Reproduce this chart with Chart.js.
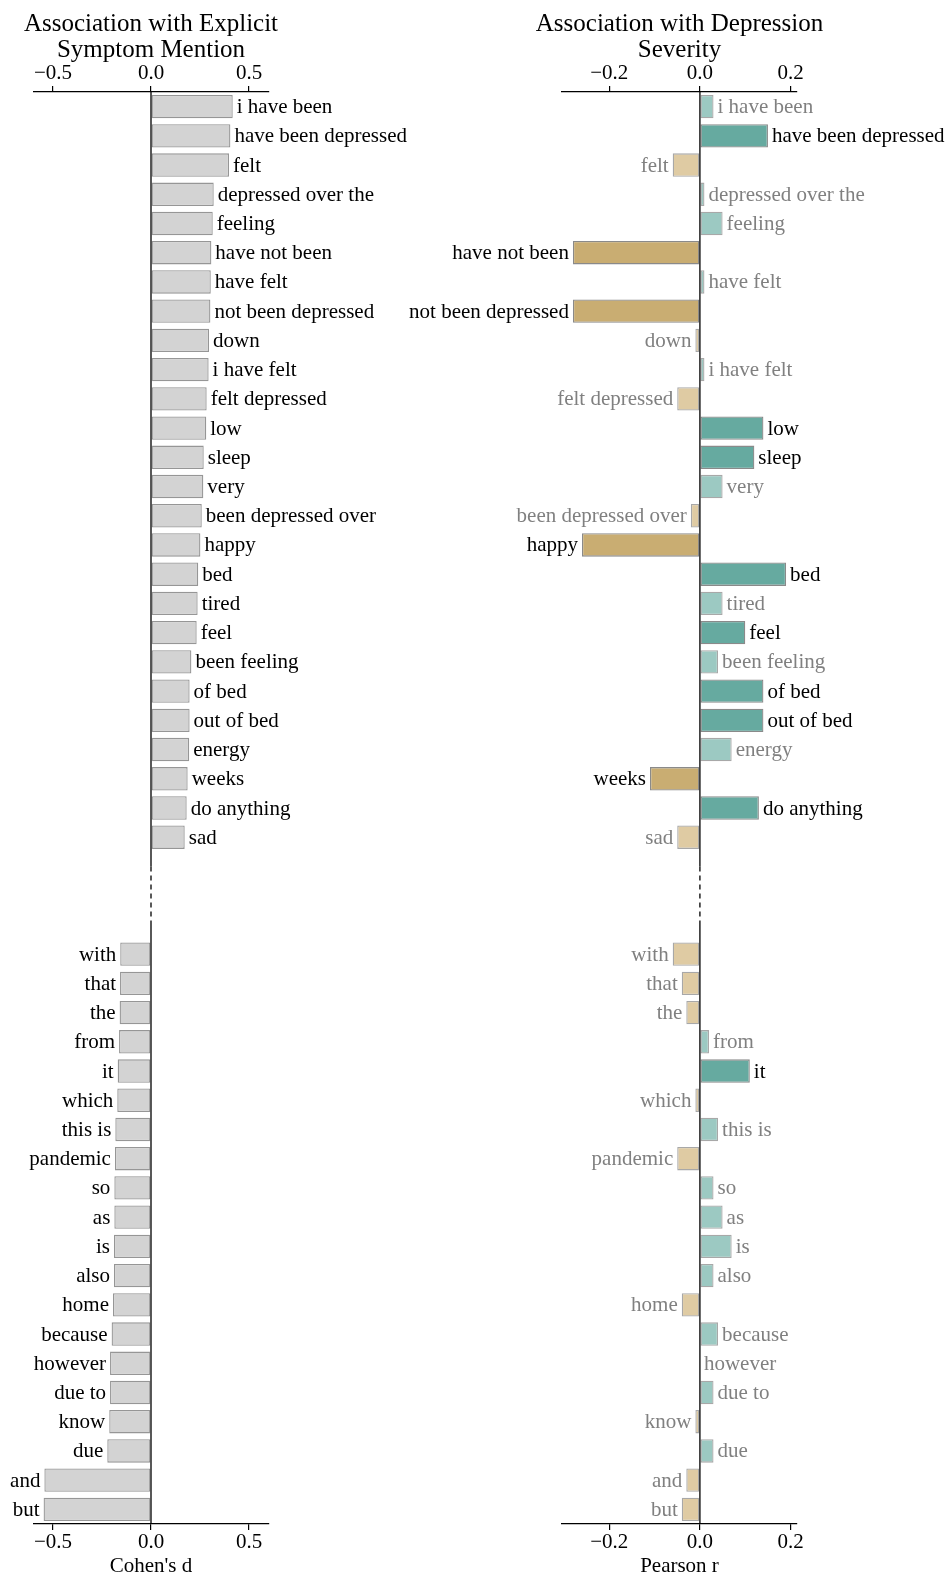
<!DOCTYPE html>
<html><head><meta charset="utf-8">
<script src="https://cdn.jsdelivr.net/npm/chart.js@4"></script>
<style>
html,body{margin:0;padding:0;background:#fff;}
#wrap{position:relative;width:950px;height:1577px;overflow:hidden;}
.box{position:absolute;top:0;}
</style></head><body>
<div id="wrap">
<div class="box" style="left:0;width:480px;height:1577px"><canvas id="left" width="480" height="1577"></canvas></div>
<div class="box" style="left:400px;width:550px;height:1577px"><canvas id="right" width="550" height="1577"></canvas></div>
</div>
<script>
const topTerms = ["i have been","have been depressed","felt","depressed over the","feeling","have not been","have felt","not been depressed","down","i have felt","felt depressed","low","sleep","very","been depressed over","happy","bed","tired","feel","been feeling","of bed","out of bed","energy","weeks","do anything","sad"];
const bottomTerms = ["with","that","the","from","it","which","this is","pandemic","so","as","is","also","home","because","however","due to","know","due","and","but"];

const cohenTop = [0.417,0.405,0.398,0.320,0.315,0.308,0.305,0.303,0.296,0.294,0.284,0.282,0.269,0.267,0.259,0.252,0.241,0.238,0.233,0.206,0.197,0.197,0.195,0.187,0.182,0.172];
const cohenBottom = [-0.157,-0.158,-0.160,-0.163,-0.170,-0.172,-0.182,-0.184,-0.187,-0.187,-0.189,-0.189,-0.194,-0.201,-0.209,-0.209,-0.213,-0.223,-0.544,-0.548];

const pearsonTop = [0.03,0.15,-0.06,0.01,0.05,-0.28,0.01,-0.28,-0.01,0.01,-0.05,0.14,0.12,0.05,-0.02,-0.26,0.19,0.05,0.10,0.04,0.14,0.14,0.07,-0.11,0.13,-0.05];
const pearsonBottom = [-0.06,-0.04,-0.03,0.02,0.11,-0.01,0.04,-0.05,0.03,0.05,0.07,0.03,-0.04,0.04,0.00,0.03,-0.01,0.03,-0.03,-0.04];

const sigTop = [0,1,0,0,0,1,0,1,0,0,0,1,1,0,0,1,1,0,1,0,1,1,0,1,1,0];
const sigBottom = [0,0,0,0,1,0,0,0,0,0,0,0,0,0,0,0,0,0,0,0];

const cohenTicks = [-0.5, 0.0, 0.5];
const pearsonTicks = [-0.2, 0.0, 0.2];
const gapRows = 3;

const FONT = '"Liberation Serif", "Times New Roman", serif';

function fmt(v){
  const s = Math.abs(v).toFixed(1);
  return v < -1e-9 ? '\u2212' + s : s;
}

const annot = {
  id: 'annot',
  afterDatasetsDraw(chart, args, o) {
    const ctx = chart.ctx, ca = chart.chartArea;
    const xs = chart.scales.x, ys = chart.scales.y;
    const x0 = xs.getPixelForValue(0);
    const gTop = ys.getPixelForValue(topTerms.length);
    const gBot = ys.getPixelForValue(topTerms.length + gapRows - 1);
    ctx.save();
    ctx.strokeStyle = '#000';
    ctx.lineWidth = 1.3;
    ctx.beginPath();
    ctx.moveTo(x0, ca.top); ctx.lineTo(x0, gTop);
    ctx.moveTo(x0, gBot); ctx.lineTo(x0, ca.bottom);
    ctx.stroke();
    ctx.setLineDash([5, 4]);
    ctx.beginPath();
    ctx.moveTo(x0, gTop); ctx.lineTo(x0, gBot);
    ctx.stroke();
    ctx.setLineDash([]);

    ctx.font = '21px ' + FONT;
    ctx.textBaseline = 'middle';
    const meta = chart.getDatasetMeta(0);
    const vals = chart.data.datasets[0].data;
    meta.data.forEach((el, i) => {
      const v = vals[i];
      if (v === null || v === undefined) return;
      const lab = chart.data.labels[i];
      ctx.fillStyle = o.labelColors[i];
      if (v >= 0) { ctx.textAlign = 'left'; ctx.fillText(lab, el.x + 4, el.y + 1); }
      else { ctx.textAlign = 'right'; ctx.fillText(lab, el.x - 4, el.y + 1); }
    });

    ctx.font = '25px ' + FONT;
    ctx.textAlign = 'center';
    ctx.fillStyle = '#000';
    const cx = (ca.left + ca.right) / 2;
    o.title.forEach((t, k) => ctx.fillText(t, cx, ca.top - 68 + 26 * k));
    ctx.restore();
  }
};

function axis(pos, min, max, tickVals, title, h) {
  return {
    type: 'linear', position: pos, min: min, max: max,
    afterBuildTicks: s => { s.ticks = tickVals.map(v => ({ value: v })); },
    afterFit: s => { s.height = h; },
    ticks: { font: { family: FONT, size: 21 }, color: '#000', padding: 0, callback: v => fmt(v), maxRotation: 0 },
    grid: { drawOnChartArea: false, drawTicks: true, tickLength: 6, color: '#000', lineWidth: 1.2 },
    border: { display: true, color: '#000', width: 1.3 },
    title: { display: !!title, text: title || '', font: { family: FONT, size: 21, lineHeight: 1.0 }, color: '#000', padding: { top: 0, bottom: 0 } }
  };
}

function makeChart(id, topVals, botVals, cfg) {
  const labels = [...topTerms, ...Array(gapRows).fill(''), ...bottomTerms];
  const data = [...topVals, ...Array(gapRows).fill(null), ...botVals];
  const sig = [...sigTop, ...Array(gapRows).fill(0), ...sigBottom];
  const fills = data.map((v, i) => cfg.fill(v, sig[i]));
  const borders = data.map((v, i) => cfg.border(v, sig[i]));
  const labelColors = data.map((v, i) => cfg.labelColor(v, sig[i]));
  return new Chart(document.getElementById(id), {
    type: 'bar',
    data: { labels: labels, datasets: [{ data: data, backgroundColor: fills, borderColor: borders, borderWidth: 1.3, borderSkipped: false, barPercentage: 0.8, categoryPercentage: 1.0 }] },
    options: {
      indexAxis: 'y', responsive: false, animation: false, devicePixelRatio: 1,
      layout: { padding: cfg.padding },
      plugins: { legend: { display: false }, tooltip: { enabled: false }, title: { display: false },
        annot: { labelColors: labelColors, title: cfg.title } },
      scales: {
        x: axis('bottom', cfg.min, cfg.max, cfg.ticks, cfg.xTitle, 53),
        x2: axis('top', cfg.min, cfg.max, cfg.ticks, null, 40),
        y: { type: 'category', display: false, offset: true }
      }
    },
    plugins: [annot]
  });
}

makeChart('left', cohenTop, cohenBottom, {
  min: -0.6, max: 0.6, ticks: cohenTicks, xTitle: "Cohen's d",
  title: ['Association with Explicit', 'Symptom Mention'],
  padding: { left: 33.4, right: 211.4, top: 52, bottom: 0 },
  fill: () => '#d3d3d3',
  border: () => '#969696',
  labelColor: () => '#000'
});

makeChart('right', pearsonTop, pearsonBottom, {
  min: -0.304, max: 0.214, ticks: pearsonTicks, xTitle: 'Pearson r',
  title: ['Association with Depression', 'Severity'],
  padding: { left: 162, right: 153, top: 52, bottom: 0 },
  fill: (v, s) => v >= 0 ? (s ? '#66aaa0' : '#9cc9c2') : (s ? '#c9ad72' : '#dfcba3'),
  border: (v, s) => s ? '#8a8a8a' : '#a8a8a8',
  labelColor: (v, s) => s ? '#000' : '#808080'
});
</script>
</body></html>
